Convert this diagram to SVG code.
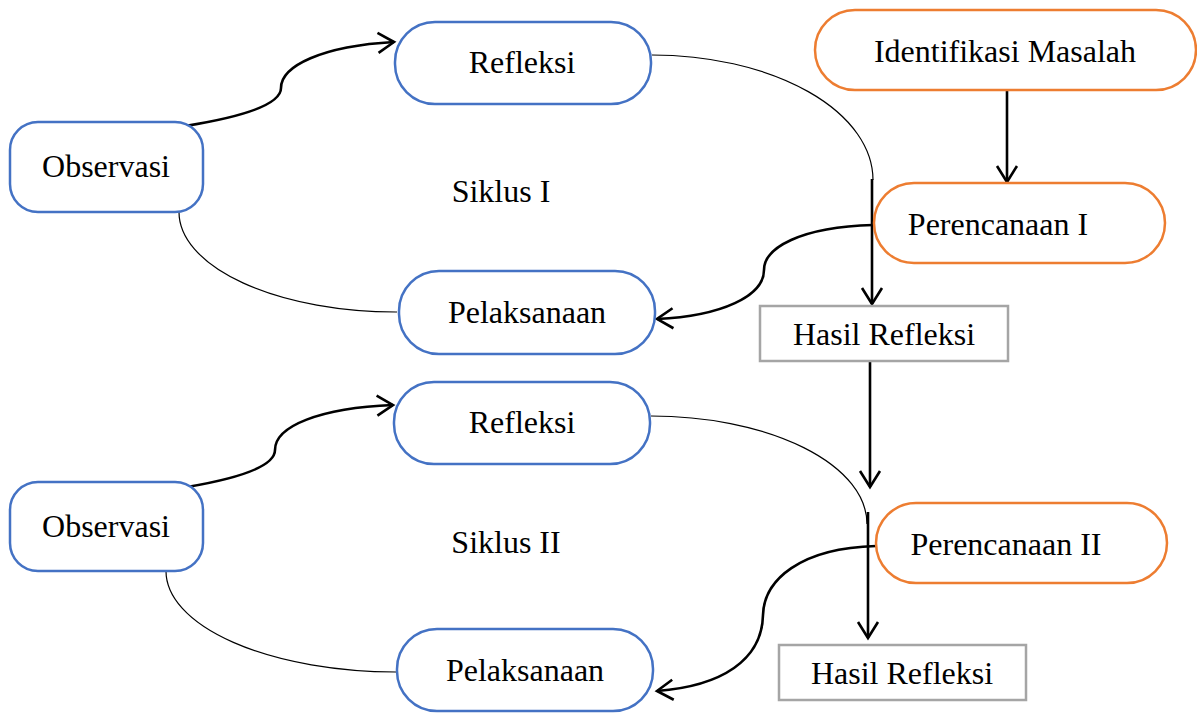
<svg xmlns="http://www.w3.org/2000/svg" width="1197" height="713" viewBox="0 0 1197 713">
<style>
  .blue { fill: #ffffff; stroke: #4472C4; stroke-width: 2.5; }
  .orange { fill: #ffffff; stroke: #ED7D31; stroke-width: 2.5; }
  .gray { fill: #ffffff; stroke: #A5A5A5; stroke-width: 2.5; }
  text { font-family: "Liberation Serif", "Times New Roman", serif; font-size: 32px; fill: #000000; text-anchor: middle; }
  .thick { fill: none; stroke: #000000; stroke-width: 2.6; }
  .thin { fill: none; stroke: #000000; stroke-width: 1.2; }
</style>
<defs>
  <marker id="arrow" markerUnits="userSpaceOnUse" markerWidth="24" markerHeight="24" viewBox="-20 -12 24 24" refX="0" refY="0" orient="auto" overflow="visible">
    <path d="M-16,-10 L0,0 L-16,10" fill="none" stroke="#000000" stroke-width="2.6"/>
  </marker>
</defs>
<rect width="1197" height="713" fill="#ffffff"/>

<g id="connectors">
  <!-- Cycle I -->
  <path class="thick" d="M185,126 C235,118 281,106 281,88 C281,66 322,46 394,42" marker-end="url(#arrow)"/>
  <path class="thin" d="M179,212 A217,100 0 0 0 397,312"/>
  <path class="thin" d="M652,55 A221,125 0 0 1 873,180"/>
  <path class="thick" d="M873,225 C800,227 764,248 764,270 C764,296 722,316 657,319" marker-end="url(#arrow)"/>
  <line class="thick" x1="872" y1="179" x2="872" y2="304" marker-end="url(#arrow)"/>
  <line class="thick" x1="1007" y1="86" x2="1007" y2="182" marker-end="url(#arrow)"/>
  <line class="thick" x1="870" y1="361" x2="870" y2="487" marker-end="url(#arrow)"/>
  <!-- Cycle II -->
  <path class="thick" d="M187,487 C240,478 275,466 275,450 C275,426 320,408 393,405" marker-end="url(#arrow)"/>
  <path class="thin" d="M166,571 A230,101 0 0 0 396,672"/>
  <path class="thin" d="M651,416 A216,108 0 0 1 867,524"/>
  <path class="thick" d="M876,546 C800,548 764,580 763,615 C762,660 722,686 657,691" marker-end="url(#arrow)"/>
  <line class="thick" x1="868" y1="512" x2="868" y2="638" marker-end="url(#arrow)"/>
</g>

<g id="identifikasi">
  <rect class="orange" x="815" y="10" width="381" height="80" rx="40" ry="40"/>
  <text x="1005" y="62">Identifikasi Masalah</text>
</g>
<g id="perencanaan1">
  <rect class="orange" x="874" y="183" width="291" height="80" rx="40" ry="40"/>
  <text x="998" y="235">Perencanaan I</text>
</g>
<g id="refleksi1">
  <rect class="blue" x="395" y="22" width="256" height="82" rx="40" ry="40"/>
  <text x="522" y="73">Refleksi</text>
</g>
<g id="observasi1">
  <rect class="blue" x="10" y="122" width="193" height="90" rx="28" ry="28"/>
  <text x="106" y="177">Observasi</text>
</g>
<g id="siklus1">
  <text x="501" y="202">Siklus I</text>
</g>
<g id="pelaksanaan1">
  <rect class="blue" x="399" y="271" width="256" height="83" rx="40" ry="40"/>
  <text x="527" y="323">Pelaksanaan</text>
</g>
<g id="hasil1">
  <rect class="gray" x="760" y="306" width="248" height="55"/>
  <text x="884" y="345">Hasil Refleksi</text>
</g>

<g id="refleksi2">
  <rect class="blue" x="394" y="382" width="256" height="82" rx="40" ry="40"/>
  <text x="522" y="433">Refleksi</text>
</g>
<g id="observasi2">
  <rect class="blue" x="10" y="482" width="193" height="89" rx="28" ry="28"/>
  <text x="106" y="537">Observasi</text>
</g>
<g id="siklus2">
  <text x="506" y="553">Siklus II</text>
</g>
<g id="perencanaan2">
  <rect class="orange" x="876" y="503" width="291" height="80" rx="40" ry="40"/>
  <text x="1006" y="555">Perencanaan II</text>
</g>
<g id="pelaksanaan2">
  <rect class="blue" x="397" y="629" width="256" height="82" rx="40" ry="40"/>
  <text x="525" y="681">Pelaksanaan</text>
</g>
<g id="hasil2">
  <rect class="gray" x="779" y="645" width="247" height="55"/>
  <text x="902" y="684">Hasil Refleksi</text>
</g>
</svg>
